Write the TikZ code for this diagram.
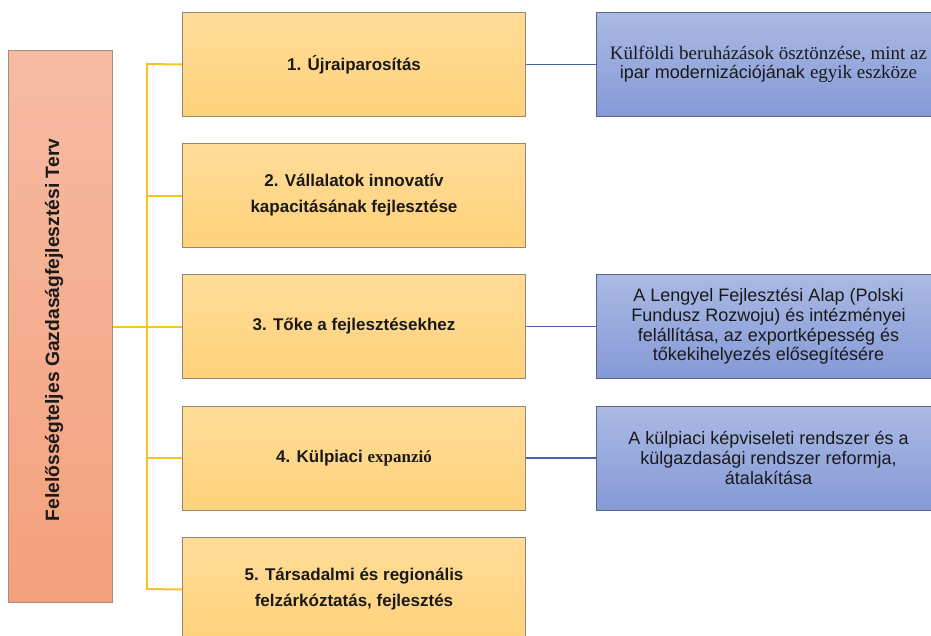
\documentclass[tikz,border=0pt]{standalone}
\usepackage{fontspec}
\setmainfont{Liberation Sans}
\newfontfamily\serifa{Liberation Serif}
\definecolor{ytop}{HTML}{FFDC98}
\definecolor{ybot}{HTML}{FFD27B}
\definecolor{btop}{HTML}{AABAE4}
\definecolor{bbot}{HTML}{8599D6}
\definecolor{ltop}{HTML}{F6BCA3}
\definecolor{lbot}{HTML}{F4A07C}
\definecolor{yline}{HTML}{F5C623}
\definecolor{bline}{HTML}{4B64A8}
\definecolor{yedge}{HTML}{948672}
\definecolor{bedge}{HTML}{5C6682}
\definecolor{ledge}{HTML}{A88C80}
\definecolor{txt}{HTML}{1A1A1A}
\begin{document}
\begin{tikzpicture}[x=1pt,y=-1pt,
  ybox/.style={draw=yedge,line width=1pt,top color=ytop,bottom color=ybot,
    minimum width=343pt,minimum height=104pt,inner sep=0pt,anchor=north west,
    align=center,font=\fontsize{17}{26}\selectfont\bfseries,text=txt},
  bbox/.style={draw=bedge,line width=1pt,top color=btop,bottom color=bbot,
    minimum width=344pt,minimum height=104pt,inner sep=0pt,anchor=north west,
    align=center,font=\fontsize{18}{19.7}\selectfont,text=txt},
  ylink/.style={draw=yline,line width=2pt},
  blink/.style={draw=bline,line width=1.8pt}]
\useasboundingbox (0,0) rectangle (931,635);
\clip (0,0) rectangle (931,635);
\fill[white] (0,0) rectangle (931,635);
% left box
\node[draw=ledge,line width=1pt,top color=ltop,bottom color=lbot,
  minimum width=104pt,minimum height=552pt,inner sep=0pt,anchor=north west]
  (L) at (8,50) {};
\node[rotate=90,font=\fontsize{19.3}{20}\selectfont\bfseries,text=txt] (Lt) at (54,330)
  {Felelősségteljes Gazdaságfejlesztési Terv};
% yellow boxes
\node[ybox] (y1) at (182,12) {1. Újraiparosítás};
\node[ybox] (y2) at (182,143) {2. Vállalatok innovatív\\kapacitásának fejlesztése};
\node[ybox] (y3) at (182,274) {3. Tőke a fejlesztésekhez};
\node[ybox] (y4) at (182,405.5) {4. Külpiaci {\serifa expanzió}};
\node[ybox] (y5) at (182,537) {5. Társadalmi és regionális\\felzárkóztatás, fejlesztés};
% blue boxes
\node[bbox] (b1) at (596,12) {{\serifa\fontsize{19}{19.7}\selectfont Külföldi beruházások ösztönzése, mint az}\\ipar modernizációjának {\serifa\fontsize{19}{19.7}\selectfont egyik eszköze}};
\node[bbox] (b3) at (596,274) {A Lengyel Fejlesztési Alap (Polski\\Fundusz Rozwoju) és intézményei\\felállítása, az exportképesség és\\tőkekihelyezés elősegítésére};
\node[bbox] (b4) at (596,405.5) {A külpiaci képviseleti rendszer és a\\külgazdasági rendszer reformja,\\átalakítása};
% yellow connectors
\coordinate (t1) at (147,64);
\coordinate (t5) at (147,589);
\draw[ylink] (y1.west) -- (t1) -- (t5) -- (y5.west);
\draw[ylink] (y2.west) -- (y2.west -| t1);
\draw[ylink] (y4.west) -- (y4.west -| t1);
\draw[ylink] (L.east) -- (y3.west);
% blue connectors
\draw[blink] (y1.east) -- (b1.west);
\draw[blink] (y3.east) -- (b3.west);
\draw[blink] (y4.east) -- (b4.west);
\end{tikzpicture}
\end{document}
